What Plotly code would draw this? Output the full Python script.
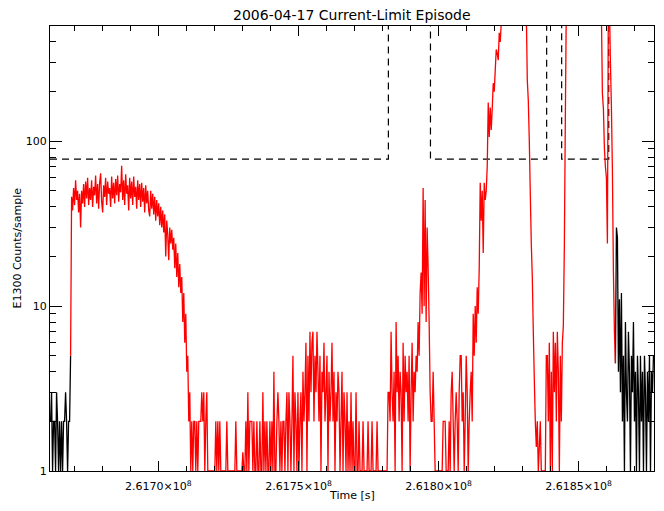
import plotly.graph_objects as go

# ---------------- data ----------------
T0 = 261661500.0     # time of first sample [s]
DT = 357.5           # sample cadence [s]

# counts before the episode (plotted black)
counts_pre = [2, 3, 1, 2, 2, 1, 3, 2, 1, 2, 1, 2, 1, 2, 2, 3, 2, 1, 2, 2]

# episode counts (plotted red)
red_plateau = [5,
               46, 38, 52, 41, 58, 44, 50, 37, 48,
               30, 50, 42, 55, 40, 57, 45, 60, 41, 52,
               44, 58, 40, 53, 47, 62, 42, 55, 39, 56,
               64, 43, 37, 54, 46, 60, 41, 57, 48, 52,
               40, 61, 45, 56, 42, 59, 47, 62, 43, 55,
               49, 71, 44, 58, 41, 63, 48, 54, 38, 60,
               45, 57, 41, 61, 46, 53, 39, 58, 44, 55,
               40, 56, 43, 52, 37, 54, 42, 50, 38, 35]
red_decline = [50, 39, 48, 36, 46, 33, 44, 35, 42, 31,
               40, 30, 38, 28, 36, 20, 33, 27, 19, 30,
               24, 29, 22, 26, 17, 24, 15, 21, 13, 18,
               12, 15, 8, 12, 6, 9, 4, 5, 2, 3]
red_quiet1 = [1, 2, 1, 2, 2, 1, 2, 1, 2, 2,
              2, 3, 2, 3, 1, 2, 3, 1, 1, 1,
              1, 1, 1, 1, 1, 2, 1, 2, 1, 2,
              1, 1, 1, 1, 1, 1, 2, 1, 1, 1,
              1, 1, 1, 1, 1, 2, 1, 1, 1, 1,
              1, 1, 1.3, 1, 1, 2, 1, 3, 1, 2,
              2, 2, 1, 2, 1, 1, 2, 1, 1, 2,
              1, 1, 3, 1, 2, 1, 2, 1, 1, 2,
              1, 2, 1, 4, 1, 1, 2, 3, 2, 1,
              2, 1, 2, 2, 1, 2, 3, 1, 3, 2,
              1, 2, 5, 1, 3, 2, 1, 3, 1, 2,
              3, 1, 4, 2, 3, 6, 1, 5, 2, 7,
              3, 6, 7, 2, 5, 3, 7, 4, 2, 5,
              1, 4, 3, 6, 2, 3, 5, 1, 4, 2,
              3, 6, 2, 4, 1, 3, 2, 4, 3, 1,
              2, 4, 1, 3, 2, 1, 3, 1, 2, 1,
              3, 1, 2, 1, 1, 3, 1, 1, 2, 1,
              1, 1, 2, 1, 1, 1, 1, 2, 1, 1,
              1, 2, 1, 1, 1, 1, 2, 1, 1, 1,
              1, 1, 1, 1, 1, 1, 1, 3]
red_spike1 = [3, 2, 7, 3, 2, 4, 1, 8, 3, 5,
              2, 4, 3, 1, 6, 2, 5, 3, 4, 2,
              5, 1, 3, 6, 2, 4, 3, 5, 4, 8,
              5, 12, 16, 9, 52, 10, 44, 8, 30, 17, 8, 3, 2]
red_quiet2 = [2, 4, 2, 1, 1, 1, 1, 1, 1, 1,
              1, 2, 2, 2, 1, 1, 1, 2, 1, 3,
              4, 2, 1, 2, 3, 2, 1, 3, 5, 5,
              2, 3, 1, 2, 5, 3, 1, 2, 3]
red_rise1 = [4, 2, 9, 5, 10, 6, 13, 9, 17,
             56, 33, 50, 21, 56, 44, 50, 70,
             172, 106, 160, 117, 158, 225, 200, 270,
             360, 340, 310, 455, 400, 520, 700]
red_high1 = [900, 1300, 1800, 2500, 3000, 3400, 3600, 3800, 3900, 4000, 3900, 3700,
             3500, 3200, 2900, 2600, 2200, 1900, 1600, 1300, 1100, 900, 750, 620]
red_fall1 = [235, 177, 101, 48, 24, 15, 7, 3.6, 2, 1.4, 2, 1, 1.4, 2]
red_quiet3 = [1, 1, 1, 1, 1]
red_block = [5, 5, 2, 6, 1, 4, 1, 7, 3, 6, 2, 7, 4, 1, 5, 2, 6]
red_rise2 = [7.6, 23, 140, 700]
red_high2 = [900, 1300, 1800, 2400, 3000, 3500, 3900, 4200, 4400, 4500, 4600, 4600,
             4500, 4400, 4200, 4000, 3800, 3500, 3200, 2900, 2600, 2300, 2000, 1800,
             1600, 1400, 1250, 1100, 1000, 900, 820, 760, 700, 650, 600]
red_fall2 = [195, 158, 90, 70, 60, 24, 900, 700, 300, 160, 65, 16, 7, 4.5]

# counts after the episode (plotted black)
counts_post = [30, 26, 4, 11, 3, 12, 2, 5, 1, 8,
               3, 2, 7, 4, 1, 5, 3, 8, 2, 4,
               1, 5, 3, 1, 5, 2, 4, 1, 5, 3,
               1, 4, 2, 5, 1, 4, 3, 5]

# current-limit flag (dashed): threshold level / off-scale while limited
flag_times = [261661300, 261782090, 261797105, 261838580, 261843940, 261860745, 261876900]
flag_levels = [78, 10000, 78, 10000, 78, 10000, 10000]

x_range = [261661300, 261876900]
x_tick_values = [2.6170e8, 2.6175e8, 2.6180e8, 2.6185e8]
x_tick_labels = ["2.6170×10<sup>8</sup>", "2.6175×10<sup>8</sup>",
                 "2.6180×10<sup>8</sup>", "2.6185×10<sup>8</sup>"]
y_tick_values = [1, 10, 100]
y_tick_labels = ["1", "10", "100"]
y_minor_values = [2, 3, 4, 5, 6, 7, 8, 9, 20, 30, 40, 50, 60, 70, 80, 90, 200, 300, 400]

# ---------------- assemble ----------------
red = (red_plateau + red_decline + red_quiet1 + red_spike1 + red_quiet2 + red_rise1
       + red_high1 + red_fall1 + red_quiet3 + red_block + red_rise2 + red_high2 + red_fall2)

n_pre = len(counts_pre)
n_red = len(red)
t_pre = [T0 + DT * i for i in range(n_pre + 1)]
y_pre = counts_pre + [red[0]]
t_red = [T0 + DT * (n_pre + i) for i in range(n_red)]
i_post0 = n_pre + n_red - 1
t_post = [T0 + DT * (i_post0 + i) for i in range(len(counts_post) + 1)]
y_post = [red[-1]] + counts_post

FONT = "DejaVu Sans"

fig = go.Figure()
fig.add_trace(go.Scatter(x=flag_times, y=flag_levels, mode="lines",
                         line=dict(color="black", width=1.2, dash="7px,5px", shape="hv"),
                         hoverinfo="skip"))
fig.add_trace(go.Scatter(x=t_pre, y=y_pre, mode="lines",
                         line=dict(color="black", width=1.3, simplify=False)))
fig.add_trace(go.Scatter(x=t_post, y=y_post, mode="lines",
                         line=dict(color="black", width=1.3, simplify=False)))
fig.add_trace(go.Scatter(x=t_red, y=red, mode="lines",
                         line=dict(color="#ff0000", width=1.3, simplify=False)))

axis_common = dict(showline=True, linecolor="black", linewidth=1, mirror="ticks",
                   showgrid=False, zeroline=False, ticks="inside", tickcolor="black",
                   tickwidth=1, tickfont=dict(family=FONT, size=11, color="black"))

fig.update_layout(
    width=664, height=511,
    margin=dict(l=50, r=10, t=26, b=40),
    paper_bgcolor="white", plot_bgcolor="white",
    showlegend=False,
    font=dict(family=FONT, size=11, color="black"),
    xaxis=dict(range=x_range, tickmode="array", tickvals=x_tick_values,
               ticktext=x_tick_labels, ticklen=10, ticklabelstandoff=5,
               minor=dict(ticks="inside", ticklen=5, tickcolor="black",
                          tickmode="linear", tick0=2.6170e8, dtick=1e4),
               **axis_common),
    yaxis=dict(type="log", range=[0, 2.69897], tickmode="array",
               tickvals=y_tick_values, ticktext=y_tick_labels, ticklen=12,
               minor=dict(ticks="inside", ticklen=6, tickcolor="black",
                          tickmode="array", tickvals=y_minor_values),
               **axis_common),
    annotations=[
        dict(text="2006-04-17 Current-Limit Episode", xref="paper", yref="paper",
             x=0.5, y=1 + 11 / 445, xanchor="center", yanchor="middle",
             showarrow=False, font=dict(family=FONT, size=14, color="black")),
        dict(text="Time [s]", xref="paper", yref="paper", x=0.5, y=-24 / 445,
             xanchor="center", yanchor="middle", showarrow=False,
             font=dict(family=FONT, size=11, color="black")),
        dict(text="E1300 Counts/sample", xref="paper", yref="paper", x=-33 / 604, y=0.5,
             xanchor="center", yanchor="middle", textangle=-90, showarrow=False,
             font=dict(family=FONT, size=11, color="black")),
    ],
)

fig.write_html("out.html")
